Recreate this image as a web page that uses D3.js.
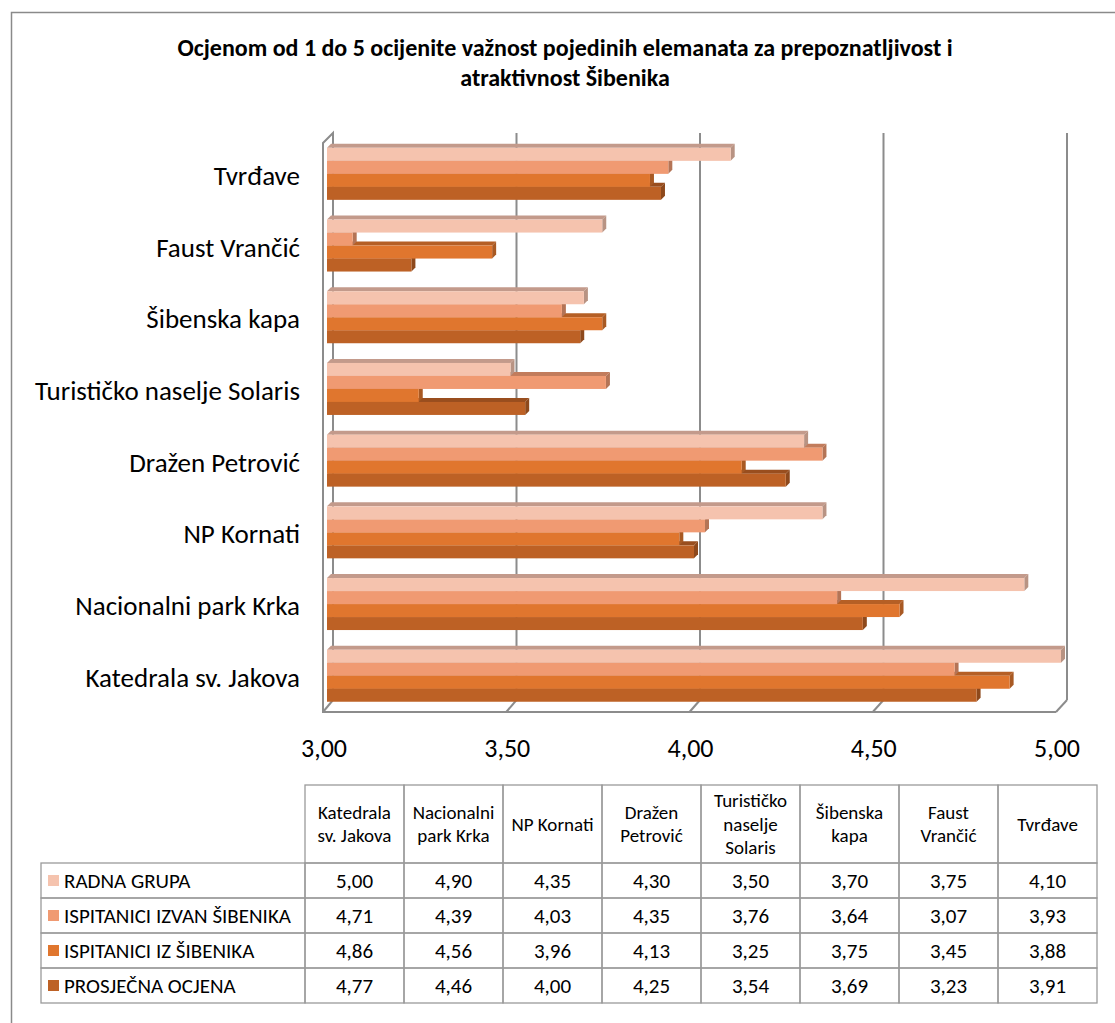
<!DOCTYPE html>
<html><head><meta charset="utf-8">
<script src="https://cdn.jsdelivr.net/npm/d3@7/dist/d3.min.js"></script>
<style>
html,body{margin:0;padding:0;background:#fff;}
svg{display:block;font-family:Carlito,Lato,"Open Sans",sans-serif;}
</style></head><body>
<svg id="chart" width="1115" height="1023"></svg>
<script>
// ---- data ----
const titleLines = ["Ocjenom od 1 do 5 ocijenite važnost pojedinih elemanata za prepoznatljivost i", "atraktivnost Šibenika"];
const categories = ["Katedrala sv. Jakova","Nacionalni park Krka","NP Kornati","Dražen Petrović","Turističko naselje Solaris","Šibenska kapa","Faust Vrančić","Tvrđave"];
const headerLabels = [["Katedrala","sv. Jakova"],["Nacionalni","park Krka"],["NP Kornati"],["Dražen","Petrović"],["Turističko","naselje","Solaris"],["Šibenska","kapa"],["Faust","Vrančić"],["Tvrđave"]];
const seriesNames = ["RADNA GRUPA","ISPITANICI IZVAN ŠIBENIKA","ISPITANICI IZ ŠIBENIKA","PROSJEČNA OCJENA"];
const seriesColors = ["#F5C3AE","#F09A72","#E0762E","#BD6125"];
const radnaGrupa   = [5.00,4.90,4.35,4.30,3.50,3.70,3.75,4.10];
const izvanSibenika= [4.71,4.39,4.03,4.35,3.76,3.64,3.07,3.93];
const izSibenika   = [4.86,4.56,3.96,4.13,3.25,3.75,3.45,3.88];
const prosjecna    = [4.77,4.46,4.00,4.25,3.54,3.69,3.23,3.91];
const seriesValues = [radnaGrupa, izvanSibenika, izSibenika, prosjecna];
const xTicks = [3.0,3.5,4.0,4.5,5.0];
const xDomain = [3,5];

// ---- layout ----
const svg = d3.select("#chart");
const fmt = d3.formatLocale({decimal:",",thousands:".",grouping:[3],currency:["","€"]}).format(".2f");
const grey = "#8C8C8C";

// outer border
svg.append("rect").attr("x",11.5).attr("y",12.5).attr("width",1200).attr("height",1100)
  .attr("fill","none").attr("stroke","#8a8a8a").attr("stroke-width",1.5);

// title
svg.append("g").selectAll("text").data(titleLines).join("text")
  .attr("x",565).attr("y",(d,i)=>56+i*30).attr("text-anchor","middle")
  .attr("font-weight","bold").attr("font-size",24).attr("fill","#000").text(d=>d);

// scales
const xBack  = d3.scaleLinear().domain(xDomain).range([333,1067]);
const xFront = d3.scaleLinear().domain(xDomain).range([323,1056]);
const xBar   = d3.scaleLinear().domain(xDomain).range([327,1061]);
const yBand  = d3.scaleBand().domain(categories.slice().reverse()).range([138,711.6]).paddingInner(0.275).paddingOuter(0.1375);
const ySub   = d3.scaleBand().domain(seriesNames).range([0,yBand.bandwidth()]);
const backTop = 133, backBottom = 700, frontBottom = 712;

// walls / gridlines
const wall = svg.append("g").attr("stroke",grey).attr("stroke-width",2).attr("fill","none");
wall.selectAll("line.grid").data(xTicks.slice(1)).join("line").attr("class","grid")
  .attr("x1",d=>xBack(d)).attr("x2",d=>xBack(d)).attr("y1",backTop).attr("y2",backBottom);
wall.append("path").attr("d",
  `M${xBack(3)},${backBottom}V${backTop}L${xFront(3)},${backTop+10}V${frontBottom}H${xFront(5)}`);
wall.selectAll("line.floor").data(xTicks).join("line").attr("class","floor")
  .attr("x1",d=>xFront(d)).attr("y1",frontBottom).attr("x2",d=>xBack(d)).attr("y2",backBottom);

// bars (3D)
const dx = 4, dy = 4;
const barG = svg.append("g");
categories.forEach((cat,ci)=>{
  for(let si=seriesNames.length-1; si>=0; si--){
    const v = seriesValues[si][ci];
    const c = d3.color(seriesColors[si]);
    const y0 = yBand(cat)+ySub(seriesNames[si]);
    const h = ySub.bandwidth();
    const x0 = xBar(3), x1 = xBar(v);
    const g = barG.append("g");
    g.append("path").attr("d",`M${x0},${y0}L${x1},${y0}L${x1+dx},${y0-dy}L${x0+dx},${y0-dy}Z`)
      .attr("fill",si===0? "#C39A8B" : c.darker(0.6).formatHex());
    g.append("path").attr("d",`M${x1},${y0}L${x1+dx},${y0-dy}L${x1+dx},${y0+h-dy}L${x1},${y0+h}Z`)
      .attr("fill",c.darker(0.8).formatHex());
    g.append("rect").attr("x",x0).attr("y",y0).attr("width",x1-x0).attr("height",h).attr("fill",c.formatHex());
  }
});

// category labels
svg.append("g").selectAll("text").data(categories).join("text")
  .attr("x",300).attr("y",d=>yBand(d)+yBand.bandwidth()/2+11).attr("text-anchor","end")
  .attr("font-size",27).attr("fill","#000").text(d=>d);

// x tick labels
svg.append("g").selectAll("text").data(xTicks).join("text")
  .attr("x",d=>xFront(d)+1).attr("y",757).attr("text-anchor","middle")
  .attr("font-size",26).attr("fill","#000").text(d=>fmt(d));

// ---- data table ----
const tbl = svg.append("g");
const colX = d3.scaleBand().domain(categories).range([305,1097]);
const legendLeft = 41, headTop = 785, headBottom = 863, rowH = 35;
const tStroke = "#9a9a9a";
const tFont = 21, hFont = 19;
// header cells
categories.forEach((cat,ci)=>{
  const x = colX(cat), w = colX.bandwidth();
  tbl.append("rect").attr("x",x).attr("y",headTop).attr("width",w).attr("height",headBottom-headTop)
    .attr("fill","none").attr("stroke",tStroke).attr("stroke-width",1.3);
  const lines = headerLabels[ci];
  const lh = 23.5, mid = (headTop+headBottom)/2;
  lines.forEach((ln,li)=>{
    tbl.append("text").attr("x",x+w/2).attr("y",mid-(lines.length-1)*lh/2+li*lh+6.5)
      .attr("text-anchor","middle").attr("font-size",hFont).attr("fill","#000").text(ln);
  });
});
// data rows
seriesNames.forEach((s,si)=>{
  const y = headBottom+si*rowH;
  tbl.append("rect").attr("x",legendLeft).attr("y",y).attr("width",305-legendLeft).attr("height",rowH)
    .attr("fill","none").attr("stroke",tStroke).attr("stroke-width",1.3);
  tbl.append("rect").attr("x",48).attr("y",y+rowH/2-5.5).attr("width",11).attr("height",11).attr("fill",seriesColors[si]);
  tbl.append("text").attr("x",64).attr("y",y+rowH/2+7).attr("font-size",tFont).attr("fill","#000").text(s);
  categories.forEach((cat,ci)=>{
    const x = colX(cat), w = colX.bandwidth();
    tbl.append("rect").attr("x",x).attr("y",y).attr("width",w).attr("height",rowH)
      .attr("fill","none").attr("stroke",tStroke).attr("stroke-width",1.3);
    tbl.append("text").attr("x",x+w/2).attr("y",y+rowH/2+7).attr("text-anchor","middle")
      .attr("font-size",tFont).attr("fill","#000").text(fmt(seriesValues[si][ci]));
  });
});
</script>
</body></html>
